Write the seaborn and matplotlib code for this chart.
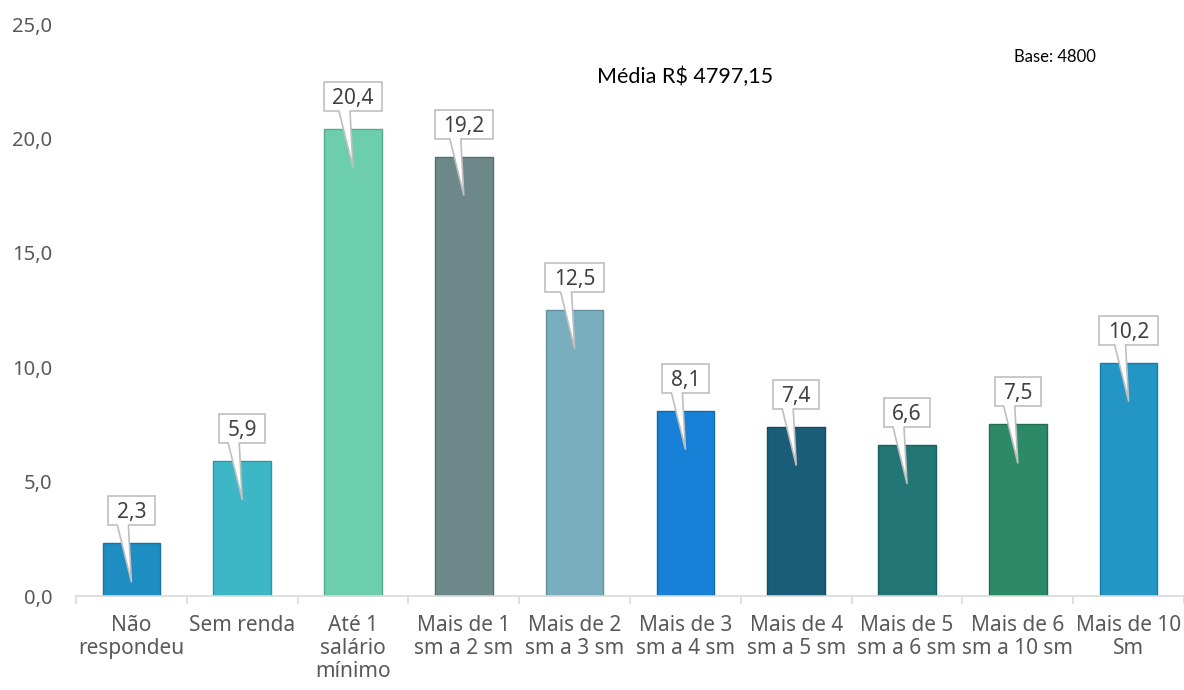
import matplotlib
matplotlib.use("Agg")
import matplotlib.pyplot as plt
from matplotlib.transforms import ScaledTranslation
from matplotlib.patches import Rectangle, Polygon
from matplotlib.lines import Line2D
from matplotlib.ticker import FixedLocator, FuncFormatter
import seaborn as sns
import pandas as pd

categories = ["Não\nrespondeu", "Sem renda", "Até 1\nsalário\nmínimo", "Mais de 1\nsm a 2 sm",
              "Mais de 2\nsm a 3 sm", "Mais de 3\nsm a 4 sm", "Mais de 4\nsm a 5 sm",
              "Mais de 5\nsm a 6 sm", "Mais de 6\nsm a 10 sm", "Mais de 10\nSm"]
values = [2.3, 5.9, 20.4, 19.2, 12.5, 8.1, 7.4, 6.6, 7.5, 10.2]
value_labels = ["2,3", "5,9", "20,4", "19,2", "12,5", "8,1", "7,4", "6,6", "7,5", "10,2"]
colors = ["#1E8DC2", "#3DB7C6", "#6CCEAC", "#6C8888", "#79AEBE",
          "#1681D6", "#1A5D78", "#237676", "#2D8A69", "#2496C6"]
edge_colors = ["#17729E", "#2E95A2", "#55AA8C", "#566E6E", "#62909E",
               "#1168B0", "#124A62", "#1A5F5F", "#226E53", "#1B7AA4"]
title_text = "Média R$ 4797,15"
base_text = "Base: 4800"
yticks = [0, 5, 10, 15, 20, 25]

sns.set_theme(style="white")
plt.rcParams["font.family"] = ["Noto Sans", "DejaVu Sans"]

fig = plt.figure(figsize=(11.84, 6.9), dpi=100)
ax = fig.add_axes([0.0642, 0.1362, 0.9358, 0.829])

df = pd.DataFrame({"cat": categories, "val": values})
sns.barplot(data=df, x="cat", y="val", hue="cat", palette=colors, legend=False,
            width=0.52, ax=ax, saturation=1)
for patch, ec in zip(ax.patches, edge_colors):
    patch.set_edgecolor(ec)
    patch.set_linewidth(1.0)

ax.set_xlim(-0.5, len(categories) - 0.5)
ax.set_ylim(0, 25)
ax.set_yticks(yticks)
ax.yaxis.set_major_formatter(FuncFormatter(lambda v, p: f"{v:.1f}".replace(".", ",")))
ax.set_xlabel("")
ax.set_ylabel("")
for s in ["top", "right", "left"]:
    ax.spines[s].set_visible(False)
ax.spines["bottom"].set_color("#D9D9D9")
ax.spines["bottom"].set_linewidth(1.2)
ax.tick_params(axis="y", length=0, pad=17, labelsize=14.5, labelcolor="#595959")
ax.tick_params(axis="x", which="major", length=0, pad=14, labelsize=15, labelcolor="#595959")
ax.xaxis.set_minor_locator(FixedLocator([i + 0.5 for i in range(-1, len(categories))]))
ax.tick_params(axis="x", which="minor", length=6, color="#D9D9D9", width=1.2, bottom=True)
for lab in ax.get_xticklabels():
    lab.set_linespacing(1.12)
    lab.set_verticalalignment("top")

# callout labels anchored at each bar top (offsets in inches)
fig.canvas.draw()
renderer = fig.canvas.get_renderer()
box_bottom, box_h = 0.18, 0.29
tip_y = -0.385
for i, (v, lab) in enumerate(zip(values, value_labels)):
    anchor = fig.dpi_scale_trans + ScaledTranslation(i, v, ax.transData)
    t = ax.text(0, box_bottom + box_h / 2 - 0.074, lab, transform=anchor, ha="center",
                va="baseline", fontsize=15, color="#404040", zorder=8, clip_on=False)
    w = t.get_window_extent(renderer).width / fig.dpi
    bw = w + 0.17
    ax.add_patch(Rectangle((-bw / 2, box_bottom), bw, box_h, transform=anchor, fc="white",
                           ec="#BFBFBF", lw=1.2, zorder=5, clip_on=False))
    bl, br = -0.14, -0.03
    ax.add_patch(Polygon([(bl, box_bottom + 0.015), (bl, box_bottom), (0, tip_y),
                          (br, box_bottom), (br, box_bottom + 0.015)], closed=True,
                         transform=anchor, fc="white", ec="none", zorder=6, clip_on=False))
    ax.add_line(Line2D([bl, 0, br], [box_bottom, tip_y, box_bottom], transform=anchor,
                       color="#BFBFBF", lw=1.2, zorder=7, clip_on=False))

fig.text(0.579, 0.888, title_text, ha="center", va="center", fontsize=15.5, color="#000000",
         family=["Lato", "DejaVu Sans"])
fig.text(0.891, 0.917, base_text, ha="center", va="center", fontsize=12, color="#000000",
         family=["Lato", "DejaVu Sans"])

fig.savefig("out.png", dpi=100)
